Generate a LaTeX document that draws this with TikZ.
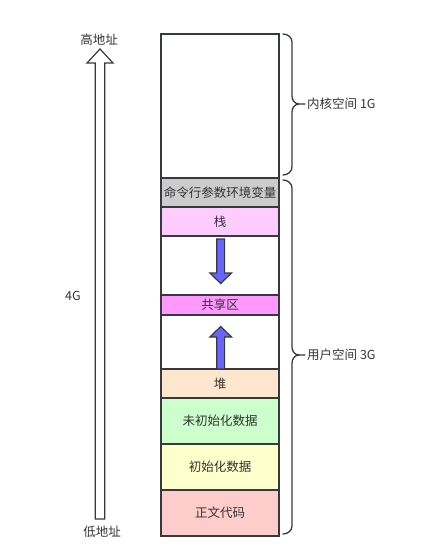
\documentclass[tikz,border=0pt]{standalone}
\usepackage{fontspec}
\setmainfont{Noto Sans CJK SC}
\definecolor{edge}{HTML}{36393D}
\definecolor{txt}{HTML}{333333}
\definecolor{cmdc}{HTML}{CCCCCC}
\definecolor{stackc}{HTML}{FFCCFF}
\definecolor{sharec}{HTML}{FF99FF}
\definecolor{heapc}{HTML}{FFE6CC}
\definecolor{bssc}{HTML}{CCFFCC}
\definecolor{datac}{HTML}{FFFFCC}
\definecolor{textc}{HTML}{FFCCCC}
\definecolor{bluec}{HTML}{6666FF}
\begin{document}
\begin{tikzpicture}[x=1pt,y=-1pt,
  seg/.style={draw=edge, line width=1.3pt, anchor=north west, minimum width=118pt,
    inner sep=0pt, outer sep=0pt, text=txt, font=\fontsize{12.5}{14}\selectfont},
  lbl/.style={text=txt, font=\fontsize{12.5}{14}\selectfont, inner sep=0pt},
  brace/.style={draw=edge, line width=1.3pt, line cap=round},
  hollow/.style={draw=edge, line width=1.2pt, fill=white, line join=miter},
  bluearrow/.style={draw=edge, line width=1.2pt, fill=bluec, line join=miter}]
\useasboundingbox (0,0) rectangle (430,557);
% memory column
\node[seg, minimum height=144pt, fill=white] (kernel) at (161,34) {};
\node[seg, minimum height=29pt, fill=cmdc] (cmd) at (161,178) {命令行参数环境变量};
\node[seg, minimum height=29pt, fill=stackc] (stack) at (161,207) {栈};
\node[seg, minimum height=59pt, fill=white] (gapa) at (161,236) {};
\node[seg, minimum height=20pt, fill=sharec] (share) at (161,295) {共享区};
\node[seg, minimum height=54pt, fill=white] (gapb) at (161,315) {};
\node[seg, minimum height=29pt, fill=heapc] (heap) at (161,369) {堆};
\node[seg, minimum height=46pt, fill=bssc] (bss) at (161,398) {未初始化数据};
\node[seg, minimum height=46pt, fill=datac] (data) at (161,444) {初始化数据};
\node[seg, minimum height=46pt, fill=textc] (code) at (161,490) {正文代码};
% blue arrows
\draw[bluearrow] (216.8,239) -- (224.6,239) -- (224.6,273) -- (231.5,273) -- (220.7,283.5)
  -- (209.9,273) -- (216.8,273) -- cycle;
\draw[bluearrow] (216.8,369) -- (224.6,369) -- (224.6,337) -- (231.5,337) -- (220.7,326.5)
  -- (209.9,337) -- (216.8,337) -- cycle;
% big hollow arrow
\draw[hollow] (95.2,519) -- (104.8,519) -- (104.8,63) -- (113,63) -- (100,49)
  -- (87,63) -- (95.2,63) -- cycle;
\node[lbl] (high) at (99,40) {高地址};
\node[lbl] (low) at (102,532) {低地址};
\node[lbl] (four) at (73,296) {4G};
% braces
\draw[brace] (283,34) to[out=0,in=90] (292,42) -- (292,96) to[out=-90,in=180] (299,104) -- (305,104);
\draw[brace] (299,104) to[out=180,in=90] (292,112) -- (292,167) to[out=-90,in=0] (283,175);
\node[lbl, anchor=west] (klabel) at (307,104) {内核空间 1G};
\draw[brace] (283,180) to[out=0,in=90] (292,188) -- (292,347) to[out=-90,in=180] (299,355) -- (305,355);
\draw[brace] (299,355) to[out=180,in=90] (292,363) -- (292,526) to[out=-90,in=0] (283,534);
\node[lbl, anchor=west] (ulabel) at (307,355) {用户空间 3G};
\end{tikzpicture}
\end{document}
